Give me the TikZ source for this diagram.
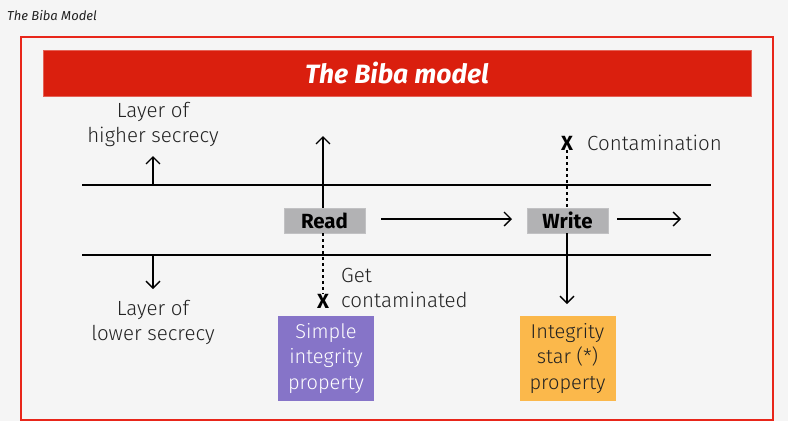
\documentclass[tikz,border=0pt]{standalone}
\usepackage{fontspec}
\setmainfont{Fira Sans}
\newfontfamily\lightf{Fira Sans Light}
\usetikzlibrary{arrows.meta}
\definecolor{bg}{HTML}{F5F5F5}
\definecolor{bibared}{HTML}{DA1F0E}
\definecolor{framered}{HTML}{E8261A}
\definecolor{boxgray}{HTML}{B2B2B4}
\definecolor{purp}{HTML}{8674C8}
\definecolor{orng}{HTML}{FBB84B}
\definecolor{txt}{HTML}{222222}
\tikzset{
  lbl/.style={font=\lightf\fontsize{20.5}{25}\selectfont, text=txt, inner sep=0pt, align=center},
  opbox/.style={fill=boxgray, draw=boxgray!80!white, minimum width=81pt, minimum height=25pt, inner sep=0pt, font=\fontsize{20.5}{22}\selectfont\bfseries},
  propbox/.style={minimum width=96pt, minimum height=85pt, inner sep=0pt, align=center, font=\lightf\fontsize{20}{25.5}\selectfont},
  arr/.style={line width=1.3pt, -{Straight Barb[length=7pt,width=14pt,line width=1.3pt]}},
  xmark/.style={font=\fontsize{20.5}{22}\selectfont\bfseries, inner sep=0pt},
  hline/.style={line width=1.4pt},
  dsh/.style={line width=1.4pt, dash pattern=on 3pt off 3pt}
}
\begin{document}
\begin{tikzpicture}[x=1pt,y=-1pt]
\fill[bg] (0,0) rectangle (788,421);
\useasboundingbox (0,0) rectangle (788,421);
\node[anchor=west, inner sep=0pt, font=\fontsize{13}{14}\selectfont\itshape, text=txt] (cap) at (7,16) {The Biba Model};
\draw[framered, line width=1.5pt] (21,37) rectangle (773,420);
\node[fill=bibared, draw=bibared!70!white, line width=0.8pt, minimum width=708pt, minimum height=46pt, inner sep=0pt, text=white, font=\fontsize{26.5}{28}\selectfont\bfseries\itshape] (title) at (397,73) {The Biba model};
% horizontal lines
\coordinate (u1) at (82,185); \coordinate (u2) at (711,185);
\coordinate (l1) at (82,255); \coordinate (l2) at (711,255);
\draw[hline] (u1) -- (u2);
\draw[hline] (l1) -- (l2);
% layer labels
\node[lbl] (hi) at (153,124) {Layer of\\higher secrecy};
\node[lbl] (lo) at (153,322) {Layer of\\lower secrecy};
\coordinate (hiA) at (153,185); \coordinate (hiB) at (153,156);
\coordinate (loA) at (153,255); \coordinate (loB) at (153,289);
\draw[arr] (hiA) -- (hiB);
\draw[arr] (loA) -- (loB);
% ops
\node[opbox] (read) at (324.5,220.5) {Read};
\node[opbox] (write) at (567.5,220.5) {Write};
\coordinate (readup) at (323,136);
\draw[arr] (read.north -| readup) -- (readup);
\coordinate (rw1) at (381,219); \coordinate (rw2) at (512,219);
\draw[arr] (rw1) -- (rw2);
\coordinate (wo1) at (617,219); \coordinate (wo2) at (681,219);
\draw[arr] (wo1) -- (wo2);
% contamination
\node[xmark] (x1) at (323,301) {X};
\draw[dsh] (read.south -| x1) -- (x1.north);
\node[lbl, align=left, anchor=west] (getc) at (341,288) {Get\\contaminated};
\node[xmark] (x2) at (567,143) {X};
\node[lbl, anchor=west] (cont) at (587,143) {Contamination};
\draw[dsh] (x2.south) -- (write.north -| x2);
\coordinate (wdown) at (567,304);
\draw[arr] (write.south -| wdown) -- (wdown);
% properties
\node[propbox, fill=purp, text=white] (sip) at (326,358.5) {Simple\\integrity\\property};
\node[propbox, fill=orng, text=txt] (isp) at (567.5,358.5) {Integrity\\star (*)\\property};
\end{tikzpicture}
\end{document}
